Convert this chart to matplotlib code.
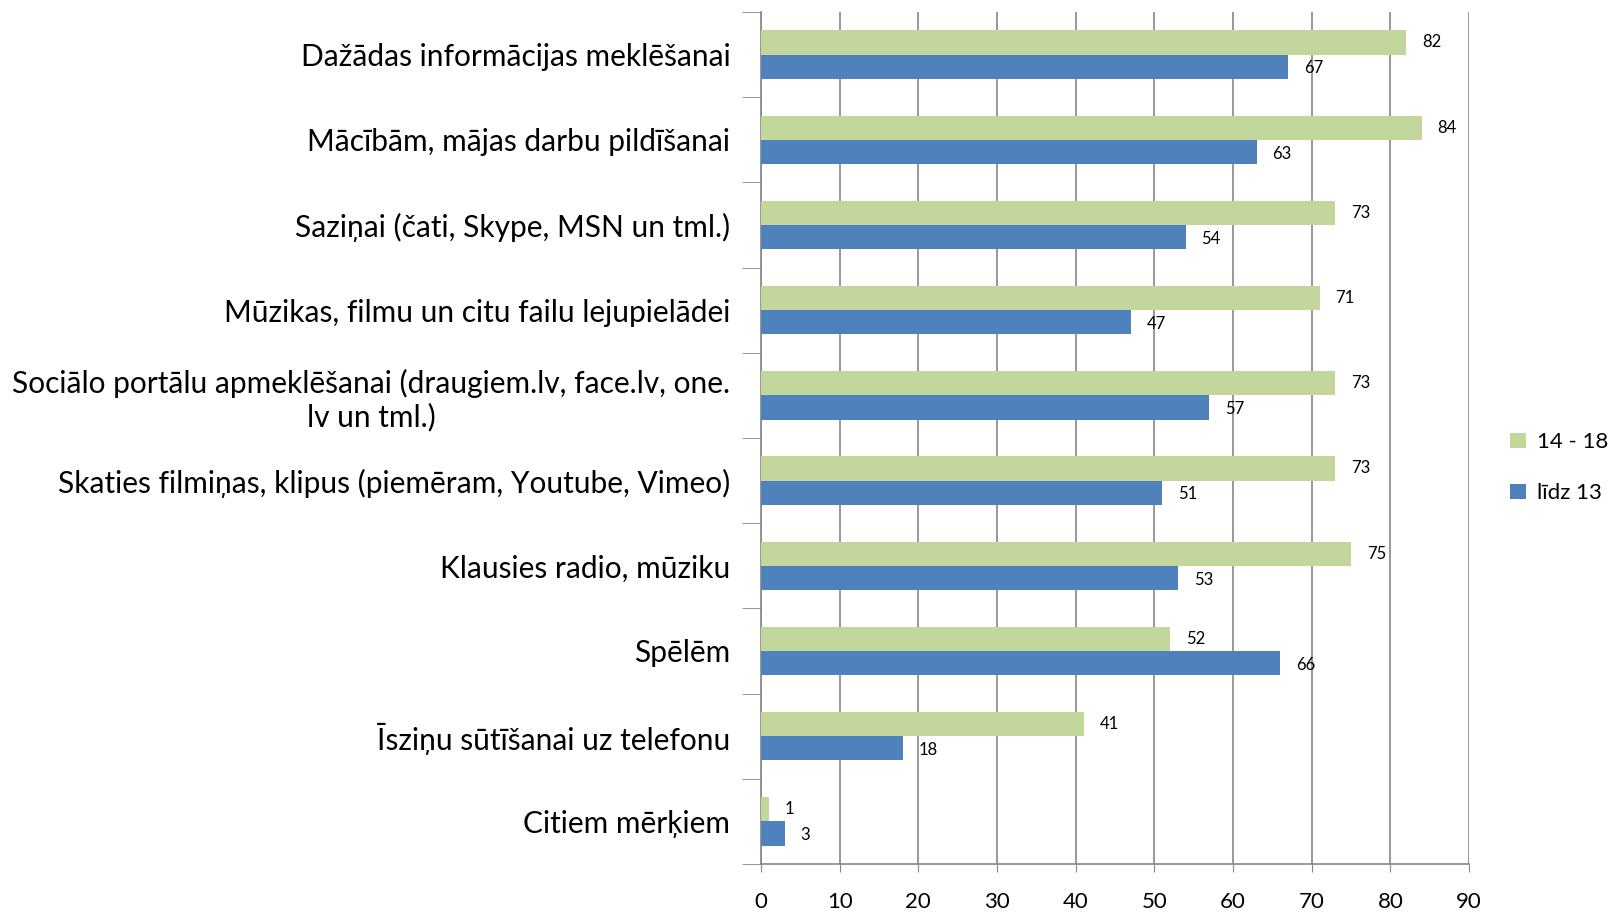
import numpy as np
import matplotlib
matplotlib.use('Agg')
import matplotlib.pyplot as plt
from matplotlib.ticker import FixedLocator, NullFormatter

# ---------------------------------------------------------------------------
categories = [
    'Dažādas informācijas meklēšanai',
    'Mācībām, mājas darbu pildīšanai',
    'Saziņai (čati, Skype, MSN un tml.)',
    'Mūzikas, filmu un citu failu lejupielādei',
    'Sociālo portālu apmeklēšanai (draugiem.lv, face.lv, one.\nlv un tml.)',
    'Skaties filmiņas, klipus (piemēram, Youtube, Vimeo)',
    'Klausies radio, mūziku',
    'Spēlēm',
    'Īsziņu sūtīšanai uz telefonu',
    'Citiem mērķiem',
]
age_14_18 = [82, 84, 73, 71, 73, 73, 75, 52, 41, 1]
age_to_13 = [67, 63, 54, 47, 57, 51, 53, 66, 18, 3]
series_names = ['14 - 18', 'līdz 13']

GREEN = '#c3d69b'
BLUE = '#4f81bd'
FONT = ['Lato', 'DejaVu Sans']

plt.rcParams['font.family'] = FONT

fig = plt.figure(figsize=(16.23, 9.17), dpi=100)
ax = fig.add_axes([761 / 1623, 1 - 864 / 917, (1469 - 761) / 1623, (864 - 12) / 917])

n = len(categories)
y = np.arange(n)
h = 0.285
ax.barh(y - h / 2, age_14_18, height=h, color=GREEN, label=series_names[0], zorder=3)
ax.barh(y + h / 2, age_to_13, height=h, color=BLUE, label=series_names[1], zorder=3)

for yi, v in zip(y, age_14_18):
    ax.text(v + 2.0, yi - h / 2, str(v), va='center', ha='left', fontsize=12)
for yi, v in zip(y, age_to_13):
    ax.text(v + 2.0, yi + h / 2 + 0.02, str(v), va='center', ha='left', fontsize=12)

ax.set_ylim(n - 0.5, -0.5)
ax.set_xlim(0, 90)
ax.set_xticks(np.arange(0, 91, 10))
ax.tick_params(axis='x', labelsize=16, length=6, color='#868686', pad=14)

ax.set_yticks(y)
ax.set_yticklabels(categories, fontsize=21.5, multialignment='center')
ax.yaxis.set_minor_locator(FixedLocator(np.arange(-0.5, n, 1.0)))
ax.yaxis.set_minor_formatter(NullFormatter())
ax.tick_params(axis='y', which='major', length=0, pad=22)
ax.tick_params(axis='y', which='minor', length=14, color='#868686')

ax.grid(axis='x', color='#868686', lw=1.2, zorder=0)
for s in ['top', 'right']:
    ax.spines[s].set_visible(False)
ax.spines['left'].set_color('#868686')
ax.spines['bottom'].set_color('#868686')
ax.spines['left'].set_linewidth(1.2)
ax.spines['bottom'].set_linewidth(1.2)

ax.legend(loc='center left', bbox_to_anchor=(1.03, 0.465), frameon=False,
          fontsize=16, handlelength=0.7, handleheight=0.7, labelspacing=1.4,
          handletextpad=0.5)

fig.savefig('out.png', dpi=100)
